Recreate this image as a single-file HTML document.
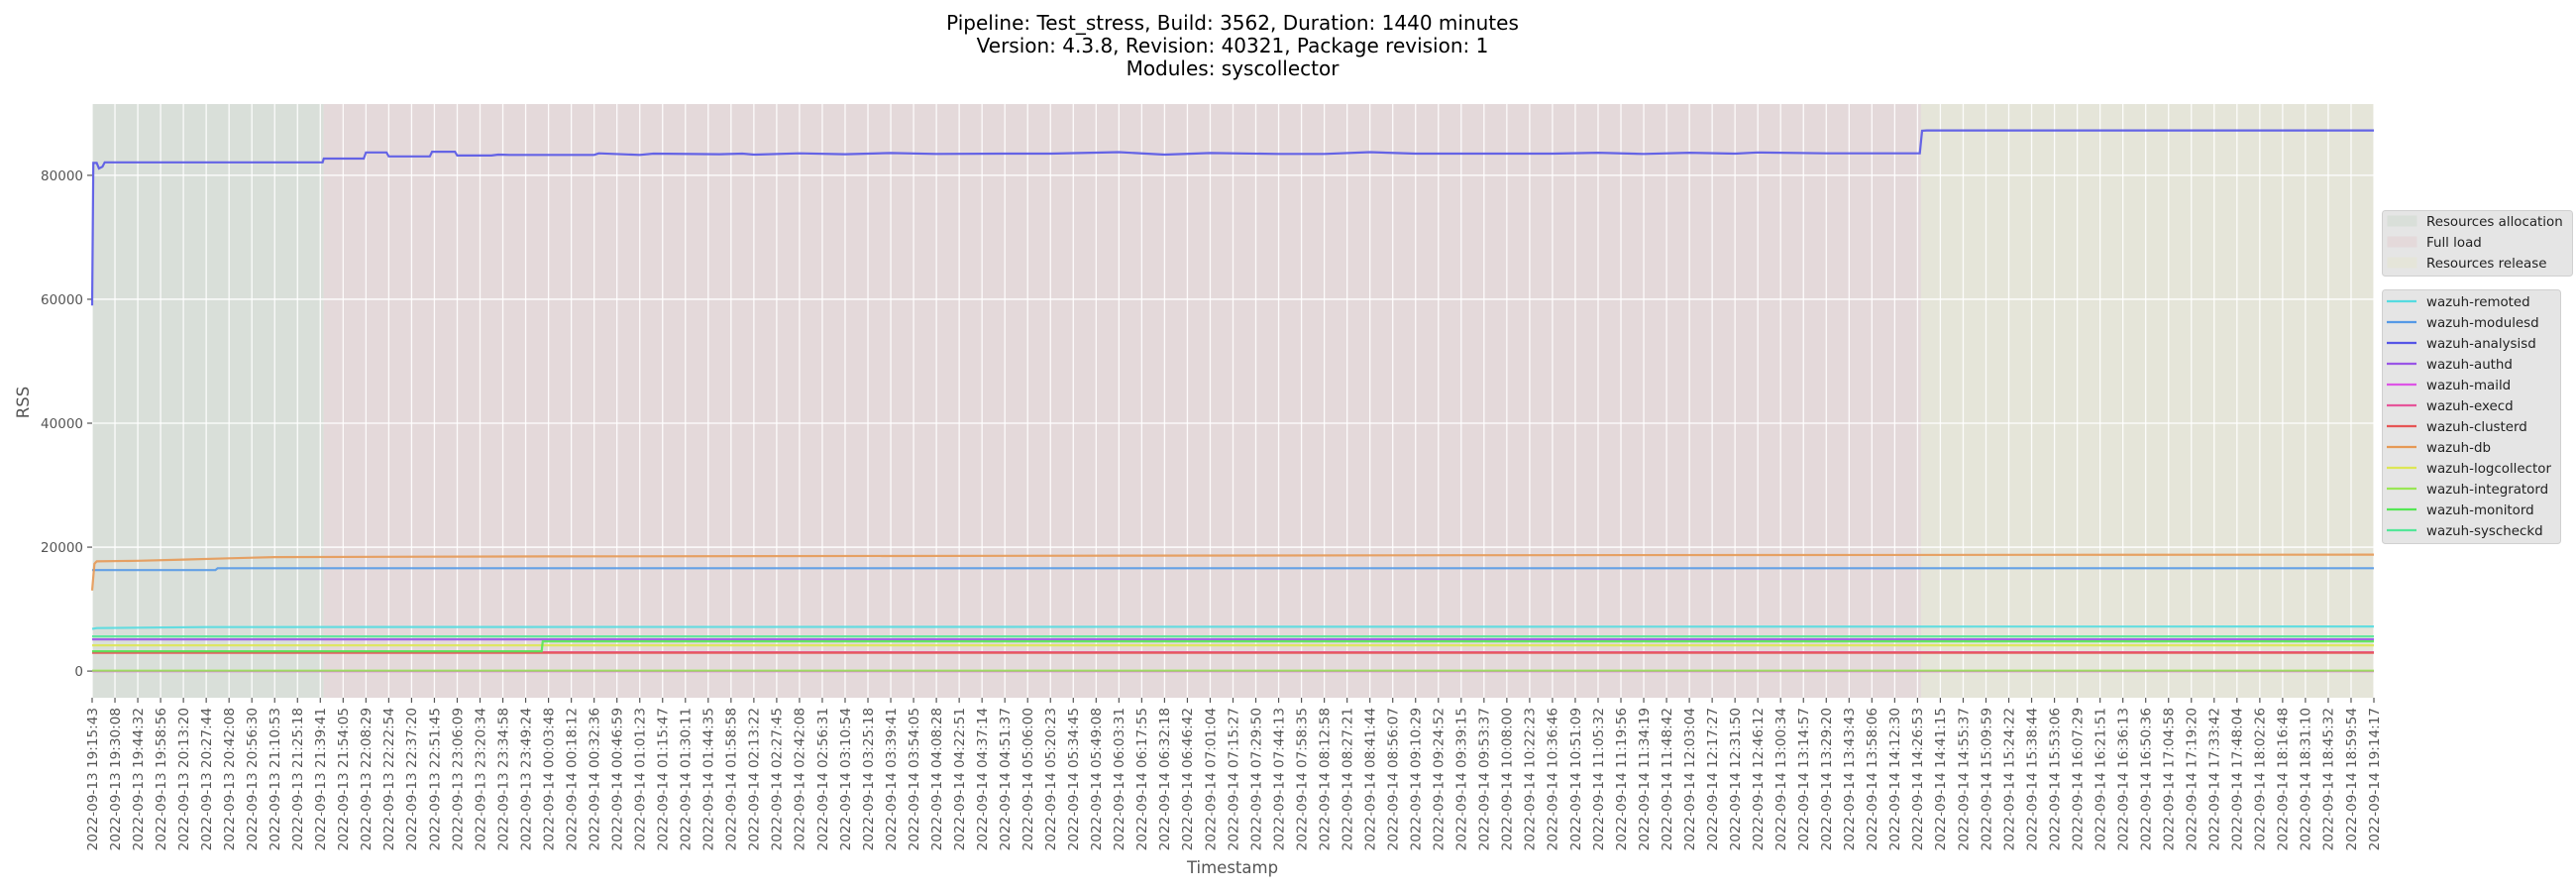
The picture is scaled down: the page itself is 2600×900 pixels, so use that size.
<!DOCTYPE html>
<html><head><meta charset="utf-8">
<style>
html,body{margin:0;padding:0;background:#fff;}
svg{display:block;font-family:"DejaVu Sans","Liberation Sans",sans-serif;}
</style></head>
<body>
<svg id="chart" width="2600" height="900" viewBox="0 0 2600 900" xmlns="http://www.w3.org/2000/svg">
<g font-size="20" fill="#000" text-anchor="middle">
<text x="1244" y="30">Pipeline: Test_stress, Build: 3562, Duration: 1440 minutes</text>
<text x="1244" y="53">Version: 4.3.8, Revision: 40321, Package revision: 1</text>
<text x="1244" y="76">Modules: syscollector</text>
</g>
<g id="plot"></g>
<text x="0" y="0" transform="translate(29,406) rotate(-90)" text-anchor="middle" font-size="16.5" fill="#555">RSS</text>
<text x="1244" y="881" text-anchor="middle" font-size="16.5" fill="#555">Timestamp</text>
<g id="legends"></g>
</svg>
<script>
// ---- data ----
const tickDates = ["2022-09-13 19:15:43","2022-09-13 19:30:08","2022-09-13 19:44:32","2022-09-13 19:58:56","2022-09-13 20:13:20","2022-09-13 20:27:44","2022-09-13 20:42:08","2022-09-13 20:56:30","2022-09-13 21:10:53","2022-09-13 21:25:18","2022-09-13 21:39:41","2022-09-13 21:54:05","2022-09-13 22:08:29","2022-09-13 22:22:54","2022-09-13 22:37:20","2022-09-13 22:51:45","2022-09-13 23:06:09","2022-09-13 23:20:34","2022-09-13 23:34:58","2022-09-13 23:49:24",
"2022-09-14 00:03:48","2022-09-14 00:18:12","2022-09-14 00:32:36","2022-09-14 00:46:59","2022-09-14 01:01:23","2022-09-14 01:15:47","2022-09-14 01:30:11","2022-09-14 01:44:35","2022-09-14 01:58:58","2022-09-14 02:13:22","2022-09-14 02:27:45","2022-09-14 02:42:08","2022-09-14 02:56:31","2022-09-14 03:10:54","2022-09-14 03:25:18","2022-09-14 03:39:41","2022-09-14 03:54:05","2022-09-14 04:08:28","2022-09-14 04:22:51","2022-09-14 04:37:14","2022-09-14 04:51:37","2022-09-14 05:06:00","2022-09-14 05:20:23","2022-09-14 05:34:45","2022-09-14 05:49:08","2022-09-14 06:03:31","2022-09-14 06:17:55","2022-09-14 06:32:18","2022-09-14 06:46:42","2022-09-14 07:01:04","2022-09-14 07:15:27","2022-09-14 07:29:50","2022-09-14 07:44:13","2022-09-14 07:58:35","2022-09-14 08:12:58","2022-09-14 08:27:21","2022-09-14 08:41:44","2022-09-14 08:56:07","2022-09-14 09:10:29","2022-09-14 09:24:52","2022-09-14 09:39:15","2022-09-14 09:53:37","2022-09-14 10:08:00","2022-09-14 10:22:23","2022-09-14 10:36:46","2022-09-14 10:51:09","2022-09-14 11:05:32","2022-09-14 11:19:56","2022-09-14 11:34:19","2022-09-14 11:48:42","2022-09-14 12:03:04","2022-09-14 12:17:27","2022-09-14 12:31:50","2022-09-14 12:46:12","2022-09-14 13:00:34","2022-09-14 13:14:57","2022-09-14 13:29:20","2022-09-14 13:43:43","2022-09-14 13:58:06","2022-09-14 14:12:30","2022-09-14 14:26:53","2022-09-14 14:41:15","2022-09-14 14:55:37","2022-09-14 15:09:59","2022-09-14 15:24:22","2022-09-14 15:38:44","2022-09-14 15:53:06","2022-09-14 16:07:29","2022-09-14 16:21:51","2022-09-14 16:36:13","2022-09-14 16:50:36","2022-09-14 17:04:58","2022-09-14 17:19:20","2022-09-14 17:33:42","2022-09-14 17:48:04","2022-09-14 18:02:26","2022-09-14 18:16:48","2022-09-14 18:31:10","2022-09-14 18:45:32","2022-09-14 18:59:54","2022-09-14 19:14:17"];
const yTicks = [0, 20000, 40000, 60000, 80000];
const phaseNames = ["Resources allocation","Full load","Resources release"];
const phaseStart = [0, 10.15, 80.15];
const phaseEnd = [10.15, 80.15, 100];
const seriesNames = ["wazuh-remoted","wazuh-modulesd","wazuh-analysisd","wazuh-authd","wazuh-maild","wazuh-execd","wazuh-clusterd","wazuh-db","wazuh-logcollector","wazuh-integratord","wazuh-monitord","wazuh-syscheckd"];
// step series: times (tick-index units) and values (RSS)
const remotedT = [0, 0.2, 5, 100]; const remotedV = [6800, 6950, 7100, 7200];
const modulesdT = [0, 5.4, 5.5, 100]; const modulesdV = [16300, 16300, 16600, 16600];
const analysisdT = [0,0.05,0.2,0.3,0.45,0.55,10.1,10.15,11.9,12.0,12.9,13.0,14.8,14.9,15.9,16.0,17.5,17.8,18.3,22,22.2,24,24.6,27.5,28.5,29,31,33,35,37,40,42,45,47,49,52,54,56,58,61,64,66,68,70,72,73,76,80.1,80.2,80.4,100];
const analysisdV = [59000,82000,82000,81100,81400,82100,82100,82700,82700,83700,83700,83050,83050,83800,83800,83200,83200,83350,83300,83300,83550,83300,83500,83400,83500,83350,83550,83400,83600,83450,83500,83500,83750,83350,83600,83450,83450,83750,83500,83500,83500,83650,83450,83650,83500,83700,83550,83550,87200,87250,87250];
const authdT = [0, 100]; const authdV = [5120, 5120];
const maildT = [0, 100]; const maildV = [0, 0];
const execdT = [0, 100]; const execdV = [3040, 3040];
const clusterdT = [0, 100]; const clusterdV = [2950, 2950];
const dbT = [0, 0.1, 0.2, 2, 4, 6, 8, 20, 40, 60, 100]; const dbV = [13000, 17300, 17700, 17800, 18000, 18200, 18400, 18500, 18600, 18700, 18800];
const logcollectorT = [0, 100]; const logcollectorV = [4160, 4160];
const integratordT = [0, 100]; const integratordV = [60, 60];
const monitordT = [0, 19.7, 19.75, 100]; const monitordV = [3200, 3200, 4800, 4800];
const syscheckdT = [0, 100]; const syscheckdV = [5600, 5600];
const allT = [remotedT, modulesdT, analysisdT, authdT, maildT, execdT, clusterdT, dbT, logcollectorT, integratordT, monitordT, syscheckdT];
const allV = [remotedV, modulesdV, analysisdV, authdV, maildV, execdV, clusterdV, dbV, logcollectorV, integratordV, monitordV, syscheckdV];

// ---- styles ----
const colors = ["#55dbe0","#5599e6","#5555e6","#9955e6","#dd55e6","#e6559a","#e65555","#e69955","#dde655","#99e655","#55e655","#55e699"];
const phaseColors = ["#d9dfd9","#e4d9da","#e5e5d9"];
const L=93, R=2396, T=105, B=704;
const X0=0, X1=100, Y0=-4300, Y1=91500;
const sx = t => L + (t-X0)/(X1-X0)*(R-L);
const sy = v => B - (v-Y0)/(Y1-Y0)*(B-T);
const NS="http://www.w3.org/2000/svg";
function mk(tag, attrs, parent){const e=document.createElementNS(NS,tag);for(const k in attrs)e.setAttribute(k,attrs[k]);parent.appendChild(e);return e;}
const plot=document.getElementById('plot');
const bg=mk('rect',{x:L,y:T,width:R-L,height:B-T,fill:'#e5e5e5'},plot);


phaseNames.forEach((n,i)=>{
  const r=mk('rect',{x:sx(phaseStart[i]),y:T,width:sx(phaseEnd[i])-sx(phaseStart[i]),height:B-T,fill:phaseColors[i]},plot);
  
  
});
// grid
tickDates.forEach((d,i)=>{
  const x=sx(i);
  const g=mk('line',{x1:x,x2:x,y1:T,y2:B,stroke:'#fff','stroke-width':1.3,opacity:0.9},plot);
  
  
  const tk=mk('line',{x1:x,x2:x,y1:B,y2:B+5,stroke:'#555','stroke-width':1.2},plot);
  
  
  const tx=mk('text',{x:0,y:0,transform:`translate(${x+4.8},${B+10}) rotate(-90)`,'text-anchor':'end','font-size':13.6,fill:'#555'},plot);
  tx.textContent=d;
  
  
});
yTicks.forEach(v=>{
  const y=sy(v);
  const g=mk('line',{x1:L,x2:R,y1:y,y2:y,stroke:'#fff','stroke-width':1.3},plot);
  
  
  const tk=mk('line',{x1:L-5,x2:L,y1:y,y2:y,stroke:'#555','stroke-width':1.2},plot);
  
  
  const tx=mk('text',{x:L-9,y:y+5,'text-anchor':'end','font-size':13.5,fill:'#555'},plot);
  tx.textContent=String(v);
  
  
});
// series
seriesNames.forEach((n,i)=>{
  const pts=allT[i].map((t,j)=>sx(t).toFixed(1)+','+sy(allV[i][j]).toFixed(1)).join(' ');
  const pl=mk('polyline',{points:pts,fill:'none',stroke:colors[i],'stroke-width':2.2,'stroke-opacity':0.9},plot);
  
  
});
// legends
const lg=document.getElementById('legends');
const b1=mk('rect',{x:2404.5,y:212.5,width:192,height:66,rx:3,fill:'#e5e5e5',stroke:'#d0d0d0'},lg);


phaseNames.forEach((n,i)=>{
  const y=223+i*21;
  const sw=mk('rect',{x:2410,y:y-5,width:29,height:10,fill:phaseColors[i],stroke:phaseColors[i]},lg);
  
  
  const t=mk('text',{x:2449,y:y+5,'font-size':13.4,fill:'#222'},lg);
  t.textContent=n;
  
  
});
const b2=mk('rect',{x:2404.5,y:292.5,width:180,height:256,rx:3,fill:'#e5e5e5',stroke:'#d0d0d0'},lg);


seriesNames.forEach((n,i)=>{
  const y=304+i*21;
  const ln=mk('line',{x1:2409,x2:2439,y1:y,y2:y,stroke:colors[i],'stroke-width':2.2},lg);
  
  
  const t=mk('text',{x:2449,y:y+5,'font-size':13.4,fill:'#222'},lg);
  t.textContent=n;
  
  
});
</script>
</body></html>
